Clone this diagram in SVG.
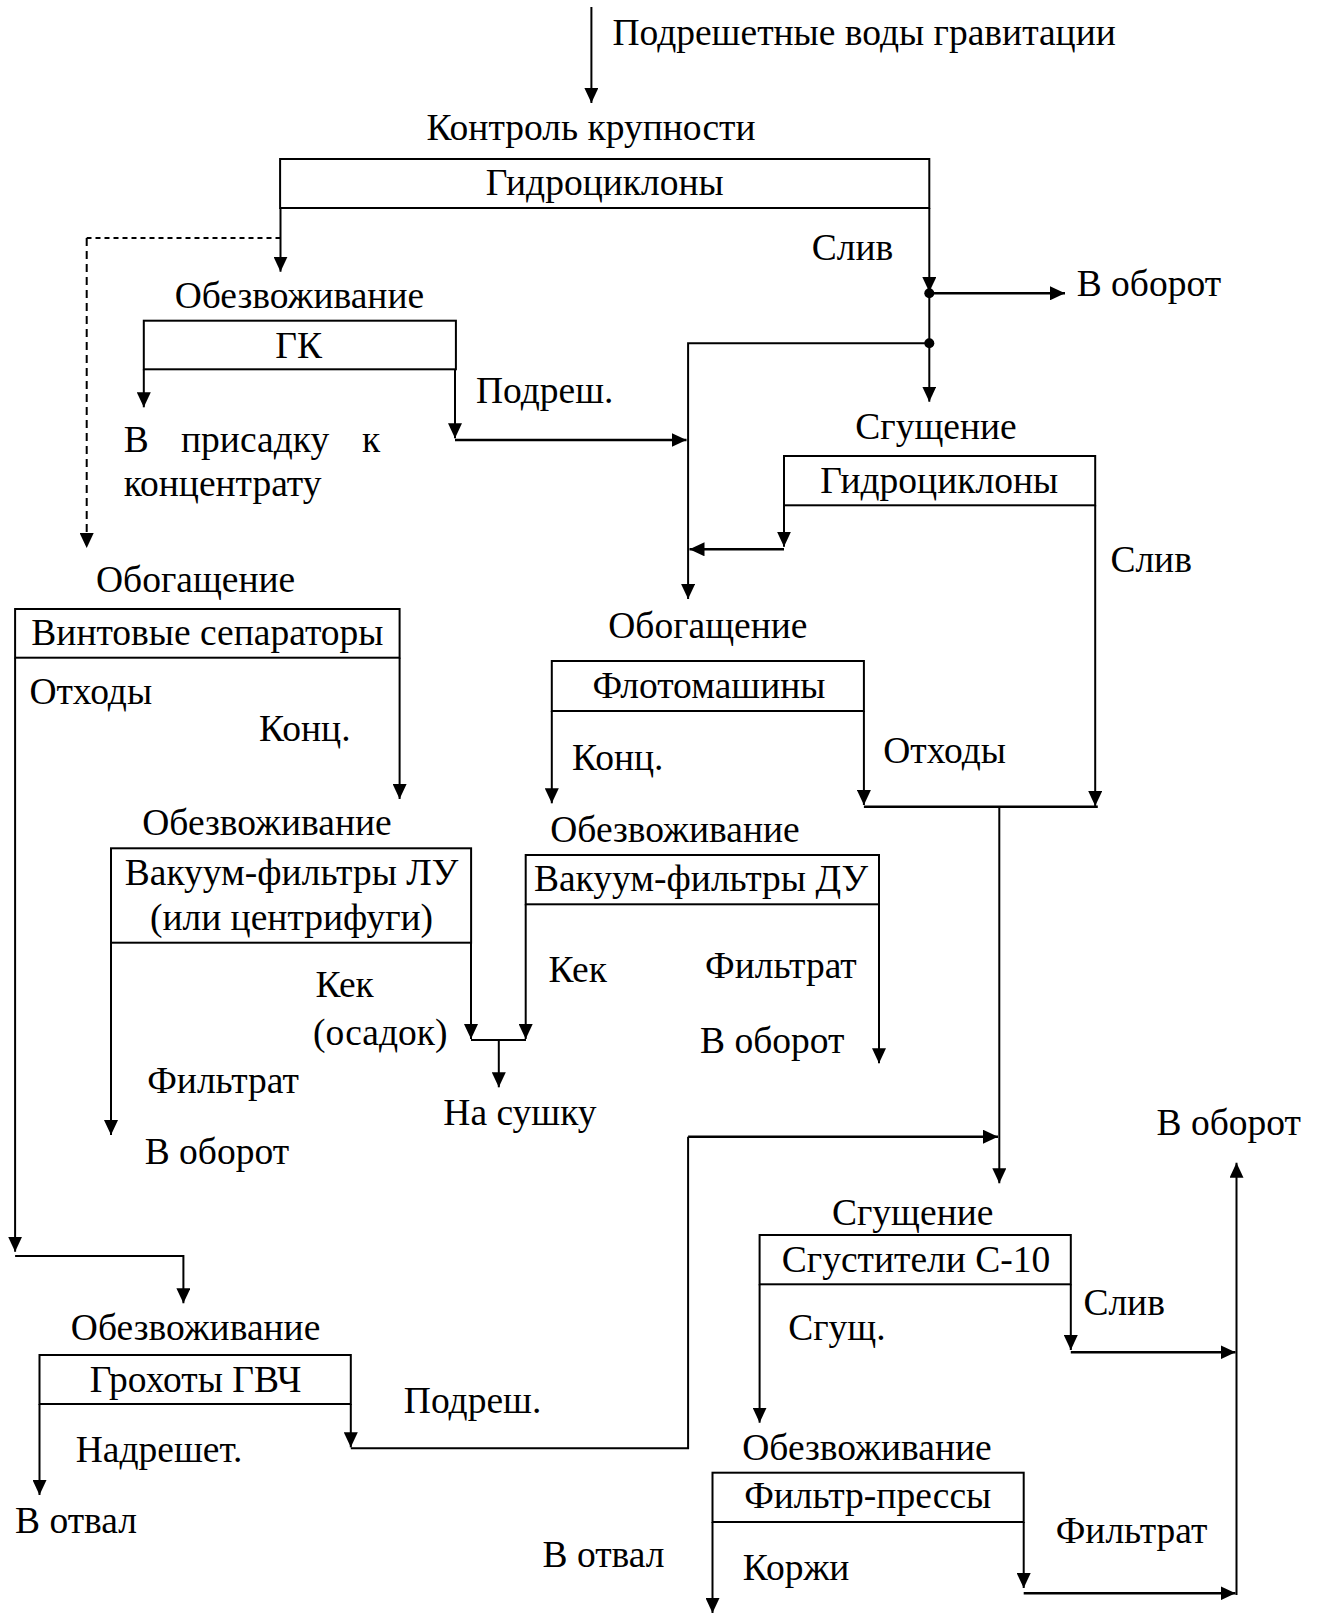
<svg xmlns="http://www.w3.org/2000/svg" width="1319" height="1613" viewBox="0 0 1319 1613">
<style>
text{font-family:"Liberation Serif","Times New Roman",serif;font-size:37.5px;fill:#000}
.c{text-anchor:middle}
.box{fill:none;stroke:#000;stroke-width:2}
.ln{fill:none;stroke:#000;stroke-width:2}
.th{fill:none;stroke:#000;stroke-width:2.6}
.dh{fill:none;stroke:#000;stroke-width:2;stroke-dasharray:5 4}
.dv{fill:none;stroke:#000;stroke-width:2;stroke-dasharray:8 5}
</style>
<defs>
<marker id="a" markerUnits="userSpaceOnUse" markerWidth="16" markerHeight="14" refX="15" refY="7" orient="auto">
<path d="M0,0 L15,7 L0,14 Z" fill="#000"/>
</marker>
</defs>
<rect width="1319" height="1613" fill="#fff"/>

<g id="connectors">
<path class="ln" d="M591.4,7 V103" marker-end="url(#a)"/>
<path class="ln" d="M280.5,208 V271.7" marker-end="url(#a)"/>
<path class="dh" d="M280.5,238 H86.7"/>
<path class="dv" d="M86.7,238 V548" marker-end="url(#a)"/>
<path class="ln" d="M929.3,208 V292" marker-end="url(#a)"/>
<path class="th" d="M929.3,293.3 H1065" marker-end="url(#a)"/>
<path class="ln" d="M929.3,293 V401.7" marker-end="url(#a)"/>
<path class="ln" d="M929.3,343.3 H688.1 V599" marker-end="url(#a)"/>
<circle cx="929.3" cy="293.3" r="5"/>
<circle cx="929.3" cy="343.3" r="5"/>
<path class="ln" d="M143.8,369.3 V407.3" marker-end="url(#a)"/>
<path class="ln" d="M455,369.3 V438.3" marker-end="url(#a)"/>
<path class="th" d="M455,440 H686.5" marker-end="url(#a)"/>
<path class="ln" d="M784,505.3 V546.7" marker-end="url(#a)"/>
<path class="th" d="M784,549.3 H689.5" marker-end="url(#a)"/>
<path class="ln" d="M1095.2,505.3 V806" marker-end="url(#a)"/>
<path class="ln" d="M15.1,657.7 V1251.7" marker-end="url(#a)"/>
<path class="ln" d="M15.1,1256 H183.4 V1303.3" marker-end="url(#a)"/>
<path class="ln" d="M399.6,657.7 V799" marker-end="url(#a)"/>
<path class="ln" d="M551.8,711 V803.3" marker-end="url(#a)"/>
<path class="ln" d="M863.9,711 V805" marker-end="url(#a)"/>
<path class="th" d="M863.9,806.7 H1097.8"/>
<path class="ln" d="M999.3,806.7 V1183.3" marker-end="url(#a)"/>
<path class="ln" d="M111,942.7 V1135" marker-end="url(#a)"/>
<path class="ln" d="M471,942.7 V1039" marker-end="url(#a)"/>
<path class="ln" d="M525.7,904.3 V1039" marker-end="url(#a)"/>
<path class="ln" d="M471,1040 H526"/>
<path class="ln" d="M498.8,1040 V1087.3" marker-end="url(#a)"/>
<path class="ln" d="M879,904.3 V1063.3" marker-end="url(#a)"/>
<path class="ln" d="M39.5,1404 V1495" marker-end="url(#a)"/>
<path class="ln" d="M350.8,1404 V1447.3" marker-end="url(#a)"/>
<path class="ln" d="M350.8,1448.3 H688.1 V1136.7"/>
<path class="th" d="M688.1,1136.7 H998" marker-end="url(#a)"/>
<path class="ln" d="M759.6,1284.3 V1422.7" marker-end="url(#a)"/>
<path class="ln" d="M1070.8,1284.3 V1350" marker-end="url(#a)"/>
<path class="th" d="M1070.8,1352.3 H1235.5" marker-end="url(#a)"/>
<path class="ln" d="M712.5,1522 V1613" marker-end="url(#a)"/>
<path class="ln" d="M1023.7,1522 V1588" marker-end="url(#a)"/>
<path class="th" d="M1023.7,1593.3 H1235.5" marker-end="url(#a)"/>
<path class="ln" d="M1236.5,1595 V1162.7" marker-end="url(#a)"/>
</g>

<g id="n1">
<text class="c" x="591" y="140">Контроль крупности</text>
<rect class="box" x="280.1" y="159" width="649.2" height="49"/>
<text class="c" x="604.8" y="195">Гидроциклоны</text>
</g>
<g id="n2">
<text class="c" x="299.4" y="308.3">Обезвоживание</text>
<rect class="box" x="143.8" y="320.7" width="312.1" height="48.6"/>
<text class="c" x="298.6" y="357.7">ГК</text>
</g>
<g id="n3">
<text class="c" x="936" y="439.3">Сгущение</text>
<rect class="box" x="784" y="456" width="311.2" height="49.3"/>
<text class="c" x="939.2" y="492.7">Гидроциклоны</text>
</g>
<g id="n4">
<text class="c" x="707.9" y="638.3">Обогащение</text>
<rect class="box" x="551.8" y="661" width="312.1" height="50"/>
<text class="c" x="709" y="697.7">Флотомашины</text>
</g>
<g id="n5">
<text class="c" x="195.6" y="591.7">Обогащение</text>
<rect class="box" x="15.1" y="609" width="384.5" height="48.7"/>
<text class="c" x="207.4" y="645">Винтовые сепараторы</text>
</g>
<g id="n6">
<text class="c" x="267" y="835">Обезвоживание</text>
<rect class="box" x="111" y="848.3" width="360.1" height="94.4"/>
<text class="c" x="291.5" y="885">Вакуум-фильтры ЛУ</text>
<text class="c" x="291.5" y="930">(или центрифуги)</text>
</g>
<g id="n7">
<text class="c" x="675" y="841.7">Обезвоживание</text>
<rect class="box" x="525.7" y="855" width="353.3" height="49.3"/>
<text class="c" x="701" y="890.7">Вакуум-фильтры ДУ</text>
</g>
<g id="n8">
<text class="c" x="195.6" y="1340">Обезвоживание</text>
<rect class="box" x="39.5" y="1355" width="311.3" height="49"/>
<text class="c" x="195.6" y="1391.7">Грохоты ГВЧ</text>
</g>
<g id="n9">
<text class="c" x="912.7" y="1225">Сгущение</text>
<rect class="box" x="759.6" y="1235" width="311.2" height="49.3"/>
<text class="c" x="916" y="1271.7">Сгустители С-10</text>
</g>
<g id="n10">
<text class="c" x="867" y="1460">Обезвоживание</text>
<rect class="box" x="712.5" y="1472.7" width="311.2" height="49.3"/>
<text class="c" x="867.7" y="1508.3">Фильтр-прессы</text>
</g>

<g id="labels">
<text x="612.4" y="45">Подрешетные воды гравитации</text>
<text x="811.7" y="260">Слив</text>
<text x="1076.7" y="296">В оборот</text>
<text x="476" y="403.3">Подреш.</text>
<text y="451.7"><tspan x="123.7">В</tspan><tspan x="181">присадку</tspan><tspan x="362">к</tspan></text>
<text x="123.7" y="496">концентрату</text>
<text x="1110.4" y="571.7">Слив</text>
<text x="29.4" y="704">Отходы</text>
<text x="259.1" y="740.7">Конц.</text>
<text x="572" y="770">Конц.</text>
<text x="883.2" y="763.3">Отходы</text>
<text x="315.4" y="996.7">Кек</text>
<text x="313" y="1045">(осадок)</text>
<text x="548.5" y="981.7">Кек</text>
<text x="705" y="978.3">Фильтрат</text>
<text x="700" y="1053.3">В оборот</text>
<text x="147.2" y="1093.3">Фильтрат</text>
<text x="144.7" y="1164.3">В оборот</text>
<text x="443.3" y="1125">На сушку</text>
<text x="1156.6" y="1135">В оборот</text>
<text x="1083.4" y="1315">Слив</text>
<text x="788.2" y="1340">Сгущ.</text>
<text x="403.8" y="1413.3">Подреш.</text>
<text x="75.7" y="1461.7">Надрешет.</text>
<text x="15.1" y="1533.3">В отвал</text>
<text x="1055.7" y="1543.3">Фильтрат</text>
<text x="542.6" y="1566.7">В отвал</text>
<text x="742.8" y="1580">Коржи</text>
</g>
</svg>
